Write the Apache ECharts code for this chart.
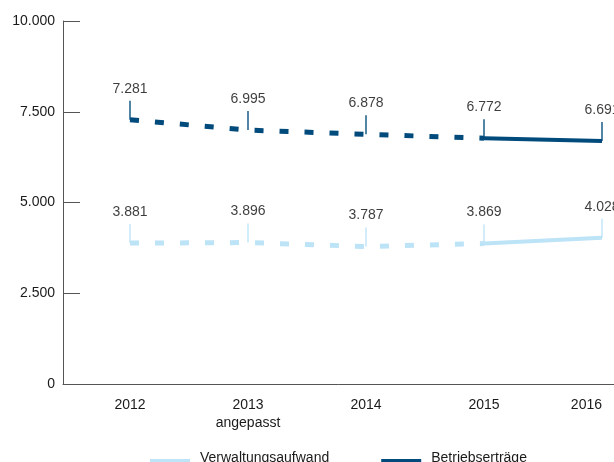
<!DOCTYPE html>
<html>
<head>
<meta charset="utf-8">
<script src="https://cdn.jsdelivr.net/npm/echarts@6/dist/echarts.min.js"></script>
<style>
html,body{margin:0;padding:0;background:#fff;}
#c{width:614px;height:462px;}
</style>
</head>
<body>
<div id="c"></div>
<script>
var categories = ['2012', '2013\nangepasst', '2014', '2015', '2016'];
var verwaltungsaufwand = [3881, 3896, 3787, 3869, 4028];
var betriebsertraege = [7281, 6995, 6878, 6772, 6691];
var yTicks = [0, 2500, 5000, 7500, 10000];
// index from which the line is drawn solid (actual values), before: dashed
var solidFrom = 3;

var LIGHT = '#bde3f7';
var DARK = '#004a7c';

function fmt(v) {
  return String(v).replace(/\B(?=(\d{3})+(?!\d))/g, '.');
}
function part(arr, dashed) {
  return arr.map(function (v, i) {
    if (dashed) return i <= solidFrom ? v : '-';
    return i >= solidFrom ? v : '-';
  });
}
function lineSeries(name, arr, color, dashed) {
  return {
    name: name,
    type: 'line',
    xAxisIndex: 0, yAxisIndex: 0,
    data: part(arr, dashed),
    symbol: 'none',
    z: 3,
    lineStyle: dashed
      ? { color: color, width: 5, type: [9, 16], cap: 'butt' }
      : { color: color, width: 4 },
    itemStyle: { color: color }
  };
}
function leaderSeries(name, arr, color) {
  return {
    name: name + ' ',
    type: 'scatter',
    xAxisIndex: 0, yAxisIndex: 0,
    data: arr,
    symbol: 'rect',
    symbolSize: [1.6, 19],
    symbolOffset: [0, -9.5],
    z: 4,
    itemStyle: { color: color, opacity: 0.85 },
    label: {
      show: true,
      position: 'top',
      distance: 5,
      formatter: function (p) { return fmt(p.value); },
      color: '#1a1a1a',
      fontSize: 14,
      fontFamily: 'Liberation Sans, Arial, sans-serif'
    },
    emphasis: { disabled: true }
  };
}

var chart = echarts.init(document.getElementById('c'), null, { renderer: 'canvas' });
chart.setOption({
  animation: false,
  backgroundColor: '#fff',
  textStyle: { fontFamily: 'Liberation Sans, Arial, sans-serif' },
  grid: [
    { left: 71, top: 21, bottom: 78, width: 590, containLabel: false, outerBoundsMode: 'none' },
    { left: 63, top: 21, bottom: 78, width: 600, containLabel: false, outerBoundsMode: 'none' }
  ],
  legend: {
    left: 150, top: 451, padding: 0,
    icon: 'rect',
    itemWidth: 40, itemHeight: 12, itemGap: 52,
    data: ['Verwaltungsaufwand', 'Betriebserträge'],
    formatter: function (name) { return '{a|' + name + '}\n{b|}'; },
    textStyle: {
      fontSize: 14, color: '#1a1a1a', padding: [0, 0, 0, 5],
      rich: {
        a: { fontSize: 14, lineHeight: 16, color: '#1a1a1a' },
        b: { height: 14, lineHeight: 14 }
      }
    },
    selectedMode: false
  },
  xAxis: [
    {
      type: 'category', gridIndex: 0, data: categories,
      boundaryGap: true,
      axisLine: { show: false }, axisTick: { show: false },
      axisLabel: { fontSize: 14, color: '#1a1a1a', margin: 12, lineHeight: 18, alignMaxLabel: 'right' },
      splitLine: { show: false }
    },
    {
      type: 'category', gridIndex: 1, data: categories,
      axisLine: { show: true, lineStyle: { color: '#555', width: 1 } },
      axisTick: { show: false }, axisLabel: { show: false },
      splitLine: { show: false }
    }
  ],
  yAxis: [
    {
      type: 'value', gridIndex: 0, min: 0, max: 10000, interval: 2500,
      show: false, splitLine: { show: false }
    },
    {
      type: 'value', gridIndex: 1, min: yTicks[0], max: yTicks[yTicks.length - 1], interval: 2500,
      axisLine: { show: true, lineStyle: { color: '#555', width: 1 } },
      axisTick: { show: true, inside: true, length: 17, lineStyle: { color: '#555' } },
      axisLabel: { fontSize: 14, color: '#1a1a1a', margin: 8, formatter: function (v) { return fmt(v); } },
      splitLine: { show: false }
    }
  ],
  series: [
    lineSeries('Verwaltungsaufwand', verwaltungsaufwand, LIGHT, true),
    lineSeries('Verwaltungsaufwand', verwaltungsaufwand, LIGHT, false),
    lineSeries('Betriebserträge', betriebsertraege, DARK, true),
    lineSeries('Betriebserträge', betriebsertraege, DARK, false),
    leaderSeries('Verwaltungsaufwand', verwaltungsaufwand, LIGHT),
    leaderSeries('Betriebserträge', betriebsertraege, DARK)
  ]
});
</script>
</body>
</html>
